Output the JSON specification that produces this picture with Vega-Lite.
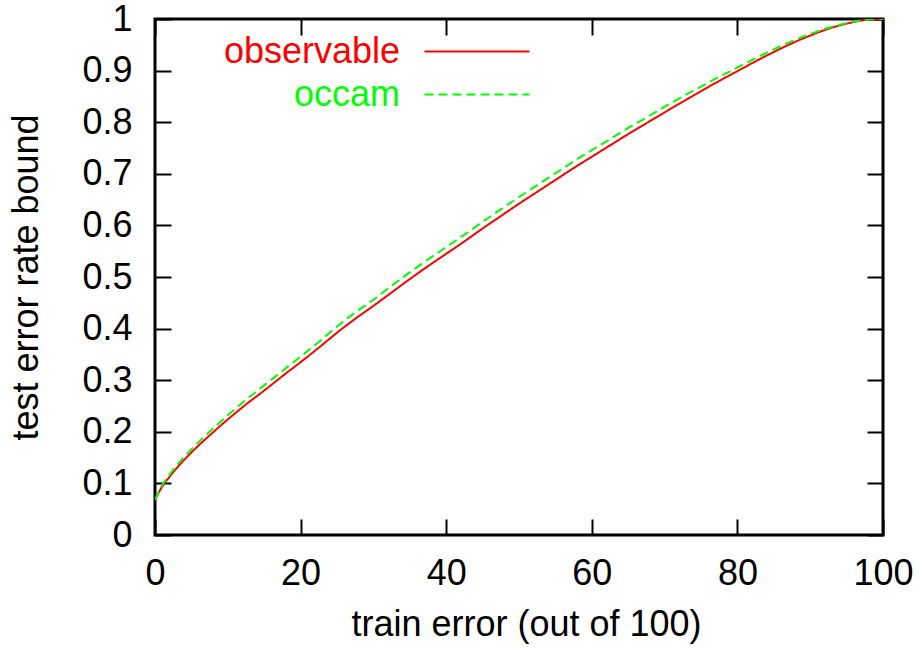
{
  "$schema": "https://vega.github.io/schema/vega-lite/v6.json",
  "autosize": "none",
  "width": 728,
  "height": 516,
  "padding": {"left": 155, "top": 19, "right": 36, "bottom": 115},
  "background": "white",
  "config": {
    "view": {"stroke": "black", "strokeWidth": 3},
    "font": "Liberation Sans",
    "axis": {
      "grid": false,
      "domain": false,
      "tickColor": "black",
      "tickWidth": 2,
      "tickSize": -16,
      "labelFont": "Liberation Sans",
      "labelFontSize": 36,
      "labelColor": "black",
      "labelFlush": false,
      "labelOverlap": false,
      "titleFont": "Liberation Sans",
      "titleFontSize": 36,
      "titleFontWeight": "normal",
      "titleColor": "black"
    }
  },
  "data": {
    "values": [
      {"x": 0, "y": 0.068, "series": "observable"},
      {"x": 1, "y": 0.094, "series": "observable"},
      {"x": 2, "y": 0.113, "series": "observable"},
      {"x": 3, "y": 0.130, "series": "observable"},
      {"x": 5, "y": 0.160, "series": "observable"},
      {"x": 7.5, "y": 0.193, "series": "observable"},
      {"x": 10, "y": 0.224, "series": "observable"},
      {"x": 12.5, "y": 0.253, "series": "observable"},
      {"x": 15, "y": 0.280, "series": "observable"},
      {"x": 17.5, "y": 0.308, "series": "observable"},
      {"x": 20, "y": 0.335, "series": "observable"},
      {"x": 22.5, "y": 0.363, "series": "observable"},
      {"x": 25, "y": 0.392, "series": "observable"},
      {"x": 27.5, "y": 0.419, "series": "observable"},
      {"x": 30, "y": 0.444, "series": "observable"},
      {"x": 32.5, "y": 0.470, "series": "observable"},
      {"x": 35, "y": 0.496, "series": "observable"},
      {"x": 37.5, "y": 0.521, "series": "observable"},
      {"x": 40, "y": 0.545, "series": "observable"},
      {"x": 42.5, "y": 0.569, "series": "observable"},
      {"x": 45, "y": 0.594, "series": "observable"},
      {"x": 47.5, "y": 0.618, "series": "observable"},
      {"x": 50, "y": 0.642, "series": "observable"},
      {"x": 52.5, "y": 0.665, "series": "observable"},
      {"x": 55, "y": 0.688, "series": "observable"},
      {"x": 57.5, "y": 0.711, "series": "observable"},
      {"x": 60, "y": 0.733, "series": "observable"},
      {"x": 62.5, "y": 0.755, "series": "observable"},
      {"x": 65, "y": 0.777, "series": "observable"},
      {"x": 67.5, "y": 0.798, "series": "observable"},
      {"x": 70, "y": 0.819, "series": "observable"},
      {"x": 72.5, "y": 0.840, "series": "observable"},
      {"x": 75, "y": 0.860, "series": "observable"},
      {"x": 77.5, "y": 0.880, "series": "observable"},
      {"x": 80, "y": 0.899, "series": "observable"},
      {"x": 82.5, "y": 0.918, "series": "observable"},
      {"x": 85, "y": 0.936, "series": "observable"},
      {"x": 87.5, "y": 0.953, "series": "observable"},
      {"x": 90, "y": 0.968, "series": "observable"},
      {"x": 92.5, "y": 0.981, "series": "observable"},
      {"x": 95, "y": 0.991, "series": "observable"},
      {"x": 97.5, "y": 0.998, "series": "observable"},
      {"x": 100, "y": 1.0, "series": "observable"},
      {"x": 0, "y": 0.068, "series": "occam"},
      {"x": 1, "y": 0.097, "series": "occam"},
      {"x": 2, "y": 0.117, "series": "occam"},
      {"x": 3, "y": 0.135, "series": "occam"},
      {"x": 5, "y": 0.166, "series": "occam"},
      {"x": 7.5, "y": 0.200, "series": "occam"},
      {"x": 10, "y": 0.232, "series": "occam"},
      {"x": 12.5, "y": 0.262, "series": "occam"},
      {"x": 15, "y": 0.290, "series": "occam"},
      {"x": 17.5, "y": 0.318, "series": "occam"},
      {"x": 20, "y": 0.346, "series": "occam"},
      {"x": 22.5, "y": 0.374, "series": "occam"},
      {"x": 25, "y": 0.404, "series": "occam"},
      {"x": 27.5, "y": 0.431, "series": "occam"},
      {"x": 30, "y": 0.456, "series": "occam"},
      {"x": 32.5, "y": 0.483, "series": "occam"},
      {"x": 35, "y": 0.509, "series": "occam"},
      {"x": 37.5, "y": 0.534, "series": "occam"},
      {"x": 40, "y": 0.558, "series": "occam"},
      {"x": 42.5, "y": 0.582, "series": "occam"},
      {"x": 45, "y": 0.607, "series": "occam"},
      {"x": 47.5, "y": 0.631, "series": "occam"},
      {"x": 50, "y": 0.655, "series": "occam"},
      {"x": 52.5, "y": 0.678, "series": "occam"},
      {"x": 55, "y": 0.701, "series": "occam"},
      {"x": 57.5, "y": 0.724, "series": "occam"},
      {"x": 60, "y": 0.746, "series": "occam"},
      {"x": 62.5, "y": 0.767, "series": "occam"},
      {"x": 65, "y": 0.789, "series": "occam"},
      {"x": 67.5, "y": 0.809, "series": "occam"},
      {"x": 70, "y": 0.830, "series": "occam"},
      {"x": 72.5, "y": 0.850, "series": "occam"},
      {"x": 75, "y": 0.869, "series": "occam"},
      {"x": 77.5, "y": 0.888, "series": "occam"},
      {"x": 80, "y": 0.906, "series": "occam"},
      {"x": 82.5, "y": 0.924, "series": "occam"},
      {"x": 85, "y": 0.941, "series": "occam"},
      {"x": 87.5, "y": 0.957, "series": "occam"},
      {"x": 90, "y": 0.971, "series": "occam"},
      {"x": 92.5, "y": 0.983, "series": "occam"},
      {"x": 95, "y": 0.992, "series": "occam"},
      {"x": 97.5, "y": 0.998, "series": "occam"},
      {"x": 100, "y": 1.0, "series": "occam"}
    ]
  },
  "layer": [
    {
      "mark": {"type": "line", "strokeWidth": 2, "interpolate": "monotone", "clip": true},
      "encoding": {
        "x": {
          "field": "x", "type": "quantitative",
          "scale": {"domain": [0, 100], "nice": false, "zero": false},
          "axis": {"orient": "bottom", "values": [0, 20, 40, 60, 80, 100], "labelPadding": 37, "title": "train error (out of 100)", "titlePadding": 16, "titleX": 371}
        },
        "y": {
          "field": "y", "type": "quantitative",
          "scale": {"domain": [0, 1], "nice": false, "zero": false},
          "axis": {"orient": "left", "values": [0, 0.1, 0.2, 0.3, 0.4, 0.5, 0.6, 0.7, 0.8, 0.9, 1], "format": "~g", "labelPadding": 39, "title": "test error rate bound", "titlePadding": 36}
        },
        "color": {
          "field": "series", "type": "nominal",
          "scale": {"domain": ["observable", "occam"], "range": ["#ff0000", "#00ff00"]},
          "legend": {
            "title": null,
            "values": ["observable"],
            "orient": "none",
            "legendX": 245,
            "legendY": -21,
            "padding": 0,
            "symbolType": "stroke",
            "symbolSize": 100,
            "symbolStrokeWidth": 2,
            "labelFont": "Liberation Sans",
            "labelFontSize": 36,
            "labelLimit": 400,
            "labelColor": "#ff0000",
            "encode": {
              "labels": {"update": {"x": {"value": 0}, "align": {"value": "right"}}},
              "symbols": {"update": {"size": {"value": 11025}, "x": {"value": 77}}}
            }
          }
        },
        "strokeDash": {
          "field": "series", "type": "nominal",
          "scale": {"domain": ["occam", "observable"], "range": [[9, 5], [1, 0]]},
          "legend": {
            "title": null,
            "values": ["occam"],
            "orient": "none",
            "legendX": 245,
            "legendY": 22,
            "padding": 0,
            "symbolType": "stroke",
            "symbolSize": 100,
            "symbolStrokeWidth": 2,
            "symbolStrokeColor": "#00ff00",
            "labelFont": "Liberation Sans",
            "labelFontSize": 36,
            "labelLimit": 400,
            "labelColor": "#00ff00",
            "encode": {
              "labels": {"update": {"x": {"value": 0}, "align": {"value": "right"}}},
              "symbols": {"update": {"size": {"value": 11025}, "x": {"value": 77}}}
            }
          }
        }
      }
    },
    {
      "mark": {"type": "point", "opacity": 0},
      "encoding": {
        "x": {"field": "x", "type": "quantitative", "axis": {"orient": "top", "values": [0, 20, 40, 60, 80, 100], "labels": false, "title": null}},
        "y": {"field": "y", "type": "quantitative", "axis": {"orient": "right", "values": [0, 0.1, 0.2, 0.3, 0.4, 0.5, 0.6, 0.7, 0.8, 0.9, 1], "labels": false, "title": null}}
      }
    }
  ],
  "resolve": {"axis": {"x": "independent", "y": "independent"}}
}
